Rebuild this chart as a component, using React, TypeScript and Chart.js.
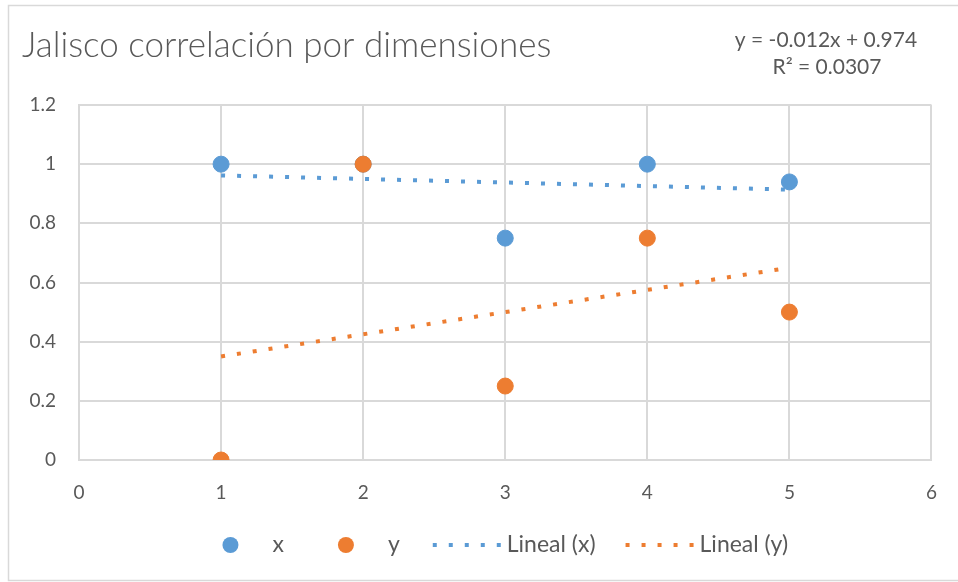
import React, { useEffect, useRef } from "react";
import { Chart, registerables } from "chart.js";

Chart.register(...registerables);

// Dimension index (x axis)
const dimensions = [1, 2, 3, 4, 5];
// Series "x" and "y" values per dimension
const seriesX = [1, 1, 0.75, 1, 0.94];
const seriesY = [0, 1, 0.25, 0.75, 0.5];
const xTicks = [0, 1, 2, 3, 4, 5, 6];
const yTicks = [0, 0.2, 0.4, 0.6, 0.8, 1, 1.2];

const titleText = "Jalisco correlación por dimensiones";
const equationLines = ["y = -0.012x + 0.974", "R² = 0.0307"];

const BLUE = "#5B9BD5";
const ORANGE = "#ED7D31";
const TEXT = "#595959";
const GRID = "#D9D9D9";
const FONT = "Lato, 'Open Sans', sans-serif";

// Least squares fit, evaluated at the first and last x
function linearFit(xs: number[], ys: number[]) {
  const n = xs.length;
  const mx = xs.reduce((a, b) => a + b, 0) / n;
  const my = ys.reduce((a, b) => a + b, 0) / n;
  let sxy = 0;
  let sxx = 0;
  for (let i = 0; i < n; i++) {
    sxy += (xs[i] - mx) * (ys[i] - my);
    sxx += (xs[i] - mx) ** 2;
  }
  const slope = sxy / sxx;
  const intercept = my - slope * mx;
  const x0 = xs[0];
  const x1 = xs[n - 1];
  return [
    { x: x0, y: slope * x0 + intercept },
    { x: x1, y: slope * x1 + intercept },
  ];
}

const decorPlugin = {
  id: "decor",
  beforeDraw(chart: any) {
    const ctx = chart.ctx;
    ctx.save();
    ctx.fillStyle = "#ffffff";
    ctx.fillRect(0, 0, chart.width, chart.height);
    ctx.strokeStyle = GRID;
    ctx.lineWidth = 1.5;
    ctx.strokeRect(8.5, 5.5, chart.width + 20, chart.height - 7);
    ctx.restore();
  },
  afterDraw(chart: any) {
    const ctx = chart.ctx;
    const area = chart.chartArea;
    ctx.save();
    // title
    ctx.fillStyle = TEXT;
    ctx.textBaseline = "middle";
    ctx.textAlign = "left";
    ctx.font = `300 35px ${FONT}`;
    ctx.fillText(titleText, 22, 46);
    // trendline equation
    ctx.textAlign = "center";
    ctx.font = `21px ${FONT}`;
    ctx.fillText(equationLines[0], 826, 40);
    ctx.fillText(equationLines[1], 827, 67);

    // legend: symbol, gap, label, then spacing to the next entry
    const ly = 545;
    ctx.font = `23px ${FONT}`;
    ctx.textAlign = "left";
    const items = [
      { type: "point", color: BLUE, label: "x", after: 54 },
      { type: "point", color: ORANGE, label: "y", after: 33 },
      { type: "line", color: BLUE, label: "Lineal (x)", after: 30 },
      { type: "line", color: ORANGE, label: "Lineal (y)", after: 0 },
    ];
    const symW = (t: string) => (t === "point" ? 16 : 70);
    const gapSym = (t: string) => (t === "point" ? 34 : 4);
    let total = 0;
    items.forEach((it) => {
      total += symW(it.type) + gapSym(it.type) + ctx.measureText(it.label).width + it.after;
    });
    let x = (area.left + area.right) / 2 - total / 2;
    items.forEach((it) => {
      if (it.type === "point") {
        ctx.fillStyle = it.color;
        ctx.beginPath();
        ctx.arc(x + 8, ly, 8, 0, Math.PI * 2);
        ctx.fill();
      } else {
        ctx.strokeStyle = it.color;
        ctx.lineWidth = 4;
        ctx.setLineDash([4, 12]);
        ctx.beginPath();
        ctx.moveTo(x, ly);
        ctx.lineTo(x + 70, ly);
        ctx.stroke();
        ctx.setLineDash([]);
      }
      x += symW(it.type) + gapSym(it.type);
      ctx.fillStyle = TEXT;
      ctx.fillText(it.label, x, ly);
      x += ctx.measureText(it.label).width + it.after;
    });
    ctx.restore();
  },
};

export default function App() {
  const canvasRef = useRef<HTMLCanvasElement | null>(null);

  useEffect(() => {
    const canvas = canvasRef.current;
    if (!canvas) return;
    const pointsX = dimensions.map((d, i) => ({ x: d, y: seriesX[i] }));
    const pointsY = dimensions.map((d, i) => ({ x: d, y: seriesY[i] }));
    const chart = new Chart(canvas, {
      type: "scatter",
      data: {
        datasets: [
          {
            label: "Lineal (x)",
            type: "line",
            data: linearFit(dimensions, seriesX),
            borderColor: BLUE,
            borderWidth: 4,
            borderDash: [4, 12],
            borderCapStyle: "butt",
            pointRadius: 0,
            fill: false,
            order: 3,
          },
          {
            label: "Lineal (y)",
            type: "line",
            data: linearFit(dimensions, seriesY),
            borderColor: ORANGE,
            borderWidth: 4,
            borderDash: [4, 12],
            borderCapStyle: "butt",
            pointRadius: 0,
            fill: false,
            order: 3,
          },
          {
            label: "x",
            data: pointsX,
            backgroundColor: BLUE,
            borderColor: BLUE,
            pointRadius: 8,
            order: 2,
          },
          {
            label: "y",
            data: pointsY,
            backgroundColor: ORANGE,
            borderColor: ORANGE,
            pointRadius: 8,
            order: 1,
          },
        ],
      },
      options: {
        animation: false,
        responsive: false,
        maintainAspectRatio: false,
        layout: { padding: { top: 105, right: 25, left: 0, bottom: 0 } },
        plugins: {
          legend: { display: false },
          title: { display: false },
          tooltip: { enabled: false },
        },
        scales: {
          x: {
            type: "linear",
            min: 0,
            max: 6,
            afterBuildTicks: (s: any) => {
              s.ticks = xTicks.map((v) => ({ value: v }));
            },
            afterFit: (s: any) => {
              s.height = 122;
            },
            grid: { color: GRID, lineWidth: 2, drawTicks: false },
            border: { color: GRID, width: 2 },
            ticks: {
              color: TEXT,
              font: { family: FONT, size: 19 },
              padding: 21,
            },
          },
          y: {
            type: "linear",
            min: 0,
            max: 1.2,
            afterBuildTicks: (s: any) => {
              s.ticks = yTicks.map((v) => ({ value: v }));
            },
            afterFit: (s: any) => {
              s.width = 79;
            },
            grid: { color: GRID, lineWidth: 2, drawTicks: false },
            border: { color: GRID, width: 2 },
            ticks: {
              color: TEXT,
              font: { family: FONT, size: 19 },
              padding: 23,
              callback: (v: any) => String(Math.round(Number(v) * 10) / 10),
            },
          },
        },
      },
      plugins: [decorPlugin],
    } as any);
    return () => chart.destroy();
  }, []);

  return (
    <div style={{ position: "fixed", left: 0, top: 0, width: 958, height: 582 }}>
      <canvas ref={canvasRef} width={958} height={582} style={{ display: "block" }} />
    </div>
  );
}
